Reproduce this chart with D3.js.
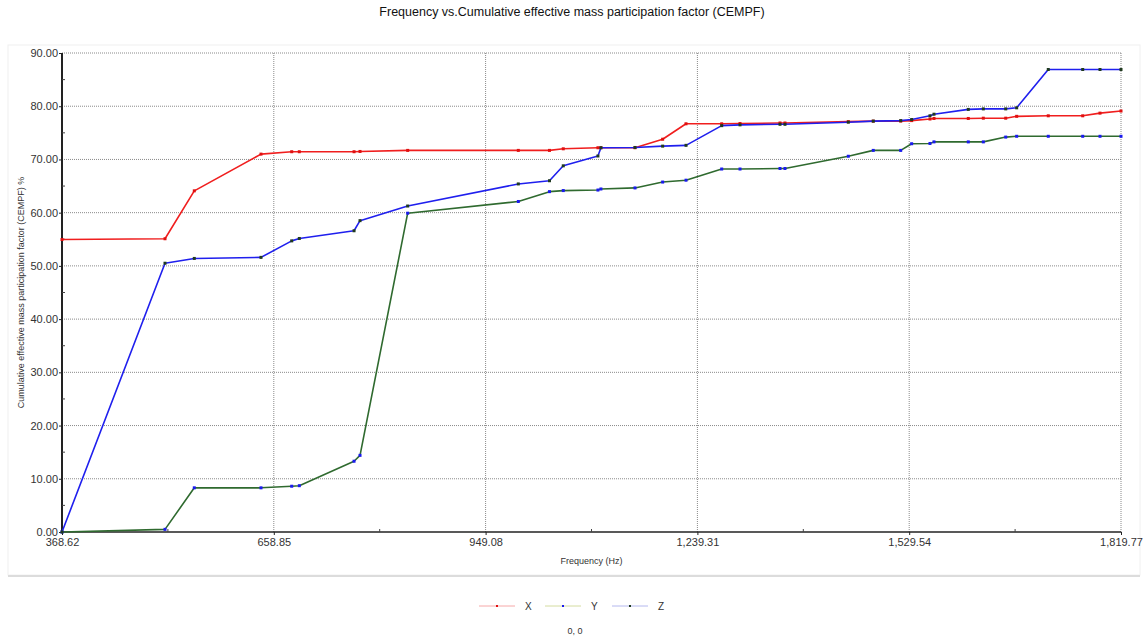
<!DOCTYPE html>
<html>
<head>
<meta charset="utf-8">
<script src="https://cdn.jsdelivr.net/npm/d3@7"></script>
<style>
  body { margin: 0; background: #fff; }
  svg { display: block; font-family: "Liberation Sans", Arial, sans-serif; }
  .tick-label { font-size: 11px; fill: #333; }
</style>
</head>
<body>
<svg width="1143" height="638"></svg>
<script>
// dados
const frequencies = [368.62, 509.76, 549.9, 641.3, 683.4, 693.8, 768.8, 777.0, 842.3, 993.9,
  1036.6, 1055.5, 1103.0, 1107.1, 1153.8, 1191.7, 1223.7, 1272.6, 1297.7, 1352.5,
  1359.3, 1446.1, 1480.3, 1517.9, 1532.9, 1558.0, 1563.5, 1610.5, 1631.1, 1661.8,
  1676.8, 1720.1, 1767.3, 1791.0, 1819.77];
const seriesX = [54.95, 55.1, 64.1, 71.0, 71.45, 71.45, 71.45, 71.5, 71.7, 71.7,
  71.7, 72.0, 72.2, 72.2, 72.2, 73.8, 76.7, 76.7, 76.75, 76.85,
  76.85, 77.1, 77.2, 77.2, 77.3, 77.6, 77.7, 77.7, 77.75, 77.75,
  78.1, 78.2, 78.2, 78.7, 79.1];
const seriesY = [0, 0.5, 8.3, 8.3, 8.6, 8.7, 13.3, 14.4, 59.9, 62.1,
  63.95, 64.15, 64.25, 64.45, 64.65, 65.75, 66.1, 68.2, 68.2, 68.3,
  68.3, 70.6, 71.7, 71.7, 72.95, 73.0, 73.3, 73.3, 73.3, 74.2,
  74.35, 74.35, 74.35, 74.35, 74.35];
const seriesZ = [0, 50.5, 51.4, 51.6, 54.7, 55.15, 56.6, 58.5, 61.25, 65.4,
  66.0, 68.8, 70.65, 72.2, 72.25, 72.5, 72.65, 76.35, 76.5, 76.6,
  76.6, 77.0, 77.2, 77.3, 77.5, 78.2, 78.5, 79.4, 79.5, 79.5,
  79.7, 86.9, 86.9, 86.9, 86.9];
const xTicks = [368.62, 658.85, 949.08, 1239.31, 1529.54, 1819.77];
const yTicks = [0, 10, 20, 30, 40, 50, 60, 70, 80, 90];
const seriesNames = ["X", "Y", "Z"];

const svg = d3.select("svg");
const plotLeft = 62, plotRight = 1121, plotTop = 53, plotBottom = 532;

const x = d3.scaleLinear().domain([368.62, 1819.77]).range([plotLeft, plotRight]);
const y = d3.scaleLinear().domain([0, 90]).range([plotBottom, plotTop]);

// painel de fundo
svg.append("rect")
  .attr("x", 8).attr("y", 45).attr("width", 1132).attr("height", 530)
  .attr("fill", "#fff").attr("stroke", "#f0f0f0");
svg.append("line")
  .attr("x1", 8).attr("x2", 1140).attr("y1", 576).attr("y2", 576)
  .attr("stroke", "#dcdcdc").attr("stroke-width", 2);

// título
svg.append("text")
  .attr("x", 572).attr("y", 16)
  .attr("text-anchor", "middle")
  .attr("font-size", "12.5px").attr("fill", "#111")
  .text("Frequency vs.Cumulative effective mass participation factor (CEMPF)");

// grade pontilhada
svg.append("g").selectAll("line")
  .data(yTicks.slice(1))
  .join("line")
  .attr("x1", plotLeft).attr("x2", plotRight)
  .attr("y1", d => y(d)).attr("y2", d => y(d))
  .attr("stroke", "#8a8a8a").attr("stroke-dasharray", "1,1");
svg.append("g").selectAll("line")
  .data(xTicks.slice(1))
  .join("line")
  .attr("x1", d => x(d)).attr("x2", d => x(d))
  .attr("y1", plotTop).attr("y2", plotBottom)
  .attr("stroke", "#8a8a8a").attr("stroke-dasharray", "1,1");

// eixos
const yAxis = svg.append("g")
  .attr("transform", `translate(${plotLeft},0)`)
  .call(d3.axisLeft(y).tickValues(yTicks).tickFormat(d3.format(".2f")).tickSize(3).tickPadding(1));
const xAxis = svg.append("g")
  .attr("transform", `translate(0,${plotBottom})`)
  .call(d3.axisBottom(x).tickValues(xTicks).tickFormat(d3.format(",.2f")).tickSize(3).tickPadding(3));
[yAxis, xAxis].forEach(g => {
  g.attr("font-family", null).attr("font-size", null);
  g.select(".domain").attr("stroke", "#222");
  g.selectAll(".tick line").attr("stroke", "#222");
  g.selectAll(".tick text").attr("class", "tick-label");
});
yAxis.select(".domain").attr("stroke-width", 2).attr("d", `M0,${plotBottom}V${plotTop}`);
xAxis.select(".domain").attr("stroke-width", 1.5).attr("d", `M${plotLeft},0H${plotRight}`);

// marcas menores
const yMinor = d3.range(5, 90, 10);
svg.append("g").selectAll("line")
  .data(yMinor)
  .join("line")
  .attr("x1", plotLeft).attr("x2", plotLeft + 3)
  .attr("y1", d => y(d)).attr("y2", d => y(d))
  .attr("stroke", "#444");
const xMinor = xTicks.slice(0, -1).map((d, i) => (d + xTicks[i + 1]) / 2);
svg.append("g").selectAll("line")
  .data(xMinor)
  .join("line")
  .attr("x1", d => x(d)).attr("x2", d => x(d))
  .attr("y1", plotBottom).attr("y2", plotBottom - 3)
  .attr("stroke", "#444");

// rótulos dos eixos
svg.append("text")
  .attr("transform", `translate(24,${(plotTop + plotBottom) / 2}) rotate(-90)`)
  .attr("text-anchor", "middle")
  .attr("font-size", "9px").attr("fill", "#333")
  .text("Cumulative effective mass participation factor (CEMPF) %");
svg.append("text")
  .attr("x", (plotLeft + plotRight) / 2).attr("y", 564)
  .attr("text-anchor", "middle")
  .attr("font-size", "9px").attr("fill", "#333")
  .text("Frequency (Hz)");

// séries
const series = [
  { name: "X", values: seriesX, color: "#f01e1e", marker: "#e01010", legendLine: "#f6a8a8" },
  { name: "Y", values: seriesY, color: "#2f6a2f", marker: "#1a1aee", legendLine: "#d4dca0" },
  { name: "Z", values: seriesZ, color: "#1f1fee", marker: "#1f3a1f", legendLine: "#b4b8ee" }
];

const line = d3.line()
  .x((d, i) => x(frequencies[i]))
  .y(d => y(d));

series.forEach(s => {
  svg.append("path")
    .datum(s.values)
    .attr("fill", "none")
    .attr("stroke", s.color)
    .attr("stroke-width", 1.6)
    .attr("stroke-linejoin", "round")
    .attr("d", line);
  svg.append("g").selectAll("rect")
    .data(s.values)
    .join("rect")
    .attr("x", (d, i) => x(frequencies[i]) - 1.5)
    .attr("y", d => y(d) - 1.5)
    .attr("width", 3).attr("height", 3)
    .attr("fill", s.marker);
});

// legenda
const legendX = [479, 545, 612];
const legend = svg.append("g").selectAll("g")
  .data(series)
  .join("g")
  .attr("transform", (d, i) => `translate(${legendX[i]},606)`);
legend.append("line")
  .attr("x1", 0).attr("x2", 36)
  .attr("stroke", d => d.legendLine).attr("stroke-width", 1);
legend.append("rect")
  .attr("x", 17).attr("y", -1).attr("width", 2).attr("height", 2)
  .attr("fill", d => d.marker);
legend.append("text")
  .attr("x", 46).attr("y", 4)
  .attr("font-size", "10px").attr("fill", "#333")
  .text(d => d.name);

svg.append("text")
  .attr("x", 575).attr("y", 634)
  .attr("text-anchor", "middle")
  .attr("font-size", "9px").attr("fill", "#333")
  .text("0, 0");
</script>
</body>
</html>
